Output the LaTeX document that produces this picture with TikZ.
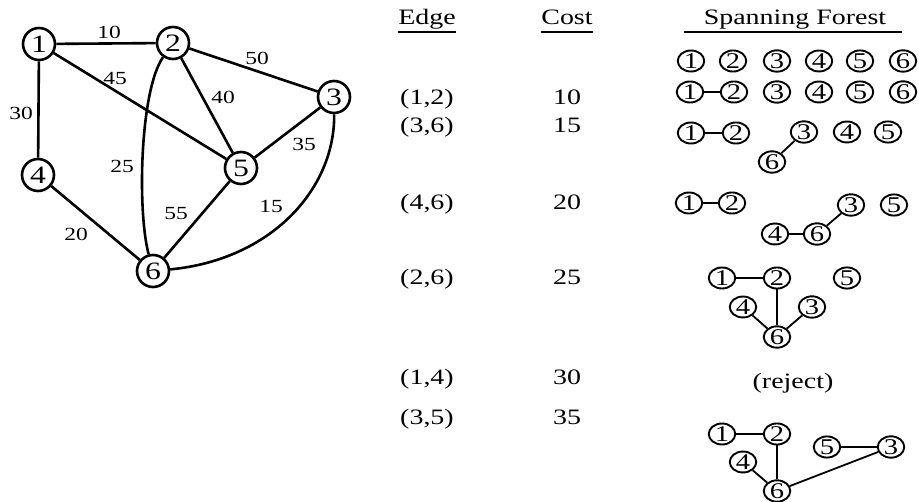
\documentclass[tikz,border=0pt]{standalone}
\usepackage{fontspec}
\setmainfont{Liberation Serif}[FakeStretch=1.27]
\usetikzlibrary{shapes.geometric}
\begin{document}
\begin{tikzpicture}[x=1pt,y=-1pt,
  gnode/.style={circle,draw,line width=2.6pt,minimum size=32pt,inner sep=0pt,font=\fontsize{25}{25}\selectfont},
  fnode/.style={ellipse,draw,line width=1.9pt,minimum width=26.5pt,minimum height=20pt,inner sep=0pt,font=\fontsize{22.5}{22.5}\selectfont},
  gedge/.style={line width=2.6pt},
  fedge/.style={line width=1.8pt},
  lbl/.style={inner sep=0pt,font=\fontsize{18.5}{18.5}\selectfont},
  txt/.style={anchor=base,inner sep=0pt,font=\fontsize{22}{22}\selectfont},
  uline/.style={line width=1.9pt}
]
\useasboundingbox[fill=white] (0,0) rectangle (919,502);
% ---------- graph ----------
\node[gnode] (n1) at (39,44) {1};
\node[gnode] (n2) at (173,43) {2};
\node[gnode] (n3) at (334,97) {3};
\node[gnode] (n4) at (38,175) {4};
\node[gnode] (n5) at (241,168) {5};
\node[gnode] (n6) at (153,271) {6};
\draw[gedge] (n1) -- (n2);
\draw[gedge] (n1) -- (n4);
\draw[gedge] (n1) -- (n5);
\draw[gedge] (n2) -- (n3);
\draw[gedge] (n2) -- (n5);
\draw[gedge] (n3) -- (n5);
\draw[gedge] (n4) -- (n6);
\draw[gedge] (n5) -- (n6);
\draw[gedge] (n2) .. controls (140,90) and (137,210) .. (n6);
\draw[gedge] (n3) .. controls (335,190) and (270,260) .. (n6);
\node[lbl] (l10) at (109,32) {10};
\node[lbl] (l50) at (257,58) {50};
\node[lbl] (l45) at (115,79) {45};
\node[lbl] (l40) at (223,97) {40};
\node[lbl] (l30) at (21,113) {30};
\node[lbl] (l35) at (304,144) {35};
\node[lbl] (l25) at (122,166) {25};
\node[lbl] (l55) at (176,214) {55};
\node[lbl] (l15) at (271,206) {15};
\node[lbl] (l20) at (76,234) {20};
% ---------- table headers ----------
\node[txt] (hedge) at (427,25) {Edge};
\node[txt] (hcost) at (567,25) {Cost};
\node[txt] (hsf) at (795,25) {Spanning Forest};
\draw[uline] ([yshift=-7pt]hedge.base west) -- ([yshift=-7pt]hedge.base east);
\draw[uline] ([yshift=-7pt]hcost.base west) -- ([yshift=-7pt]hcost.base east);
\draw[uline] ([xshift=-20pt,yshift=-7pt]hsf.base west) -- ([xshift=16pt,yshift=-7pt]hsf.base east);
% ---------- table rows ----------
\node[txt] (e1) at (427,105) {(1,2)};
\node[txt] (c1) at (567,105) {10};
\node[txt] (e2) at (427,133) {(3,6)};
\node[txt] (c2) at (567,133) {15};
\node[txt] (e3) at (427,210) {(4,6)};
\node[txt] (c3) at (567,210) {20};
\node[txt] (e4) at (427,285) {(2,6)};
\node[txt] (c4) at (567,285) {25};
\node[txt] (e5) at (427,385) {(1,4)};
\node[txt] (c5) at (567,385) {30};
\node[txt] (e6) at (427,425) {(3,5)};
\node[txt] (c6) at (567,425) {35};
\node[txt] (rej) at (793,389) {(reject)};
% ---------- forest row A ----------
\node[fnode] (a1) at (691,61) {1};
\node[fnode] (a2) at (733,61) {2};
\node[fnode] (a3) at (777,61) {3};
\node[fnode] (a4) at (819,61) {4};
\node[fnode] (a5) at (860,61) {5};
\node[fnode] (a6) at (903,61) {6};
% ---------- row B ----------
\node[fnode] (b1) at (690,92) {1};
\node[fnode] (b2) at (734,92) {2};
\node[fnode] (b3) at (777,92) {3};
\node[fnode] (b4) at (819,92) {4};
\node[fnode] (b5) at (860,92) {5};
\node[fnode] (b6) at (903,92) {6};
\draw[fedge] (b1) -- (b2);
% ---------- row C ----------
\node[fnode] (c1n) at (691,133) {1};
\node[fnode] (c2n) at (736,133) {2};
\node[fnode] (c3n) at (804,132) {3};
\node[fnode] (c4n) at (847,132) {4};
\node[fnode] (c5n) at (888,132) {5};
\node[fnode] (c6n) at (772,162) {6};
\draw[fedge] (c1n) -- (c2n);
\draw[fedge] (c3n) -- (c6n);
% ---------- row D ----------
\node[fnode] (d1) at (689,203) {1};
\node[fnode] (d2) at (732,203) {2};
\node[fnode] (d3) at (851,205) {3};
\node[fnode] (d5) at (894,205) {5};
\node[fnode] (d4) at (775,234) {4};
\node[fnode] (d6) at (817,234) {6};
\draw[fedge] (d1) -- (d2);
\draw[fedge] (d4) -- (d6);
\draw[fedge] (d6) -- (d3);
% ---------- row E ----------
\node[fnode] (f1) at (722,278) {1};
\node[fnode] (f2) at (777,278) {2};
\node[fnode] (f5) at (847,278) {5};
\node[fnode] (f4) at (743,307) {4};
\node[fnode] (f3) at (812,307) {3};
\node[fnode] (f6) at (777,337) {6};
\draw[fedge] (f1) -- (f2);
\draw[fedge] (f2) -- (f6);
\draw[fedge] (f4) -- (f6);
\draw[fedge] (f3) -- (f6);
% ---------- row F ----------
\node[fnode] (g1) at (722,434) {1};
\node[fnode] (g2) at (777,434) {2};
\node[fnode] (g5) at (827,447) {5};
\node[fnode] (g3) at (891,447) {3};
\node[fnode] (g4) at (743,462) {4};
\node[fnode] (g6) at (777,491) {6};
\draw[fedge] (g1) -- (g2);
\draw[fedge] (g2) -- (g6);
\draw[fedge] (g4) -- (g6);
\draw[fedge] (g6) -- (g3);
\draw[fedge] (g5) -- (g3);
\end{tikzpicture}
\end{document}
